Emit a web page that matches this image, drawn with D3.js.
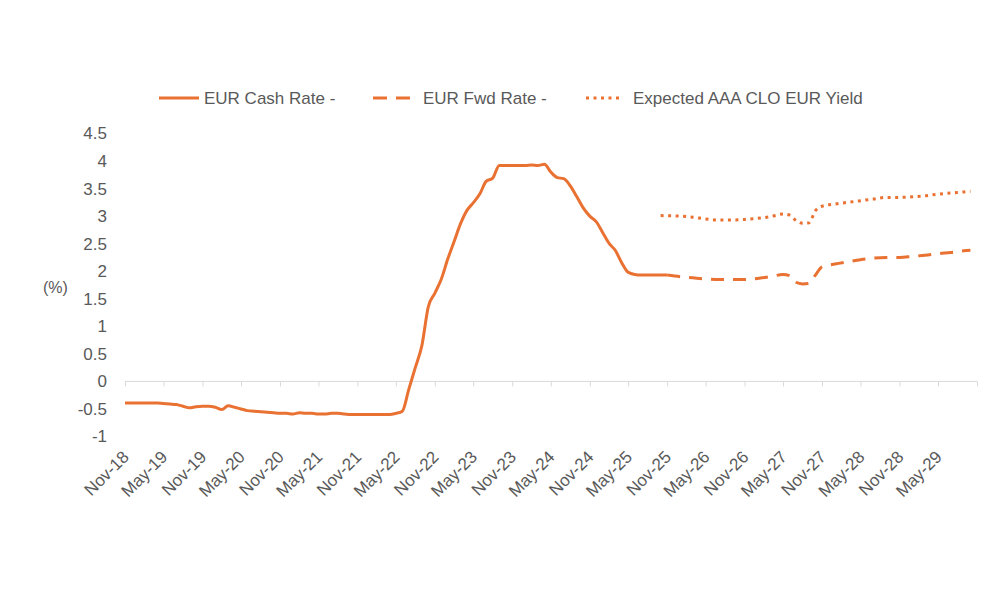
<!DOCTYPE html>
<html><head><meta charset="utf-8">
<script src="https://cdn.jsdelivr.net/npm/d3@7"></script>
<style>body{margin:0;background:#fff}svg{display:block}</style>
</head><body>
<svg id="c" width="1000" height="600"></svg>
<script>
// ---- data ----
const cashStart = "2018-11";
const cashValues = [
 -0.39,-0.39,-0.39,-0.39,-0.39,-0.39,-0.40,-0.41,-0.42,-0.45,-0.48,-0.46,
 -0.45,-0.45,-0.47,-0.51,-0.44,-0.47,-0.50,-0.53,-0.54,-0.55,-0.56,-0.57,
 -0.58,-0.58,-0.59,-0.57,-0.58,-0.58,-0.59,-0.59,-0.58,-0.58,-0.59,-0.60,
 -0.60,-0.60,-0.60,-0.60,-0.60,-0.60,-0.58,-0.54,-0.15,0.25,0.65,1.35,
 1.60,1.85,2.22,2.55,2.85,3.10,3.24,3.40,3.63,3.69,3.92,3.92,
 3.92,3.92,3.92,3.93,3.92,3.94,3.80,3.70,3.68,3.55,3.35,3.15,
 3.00,2.90,2.70,2.50,2.38,2.15,1.98,1.94,1.93,1.93,1.93,1.93,1.93
];
const fwdDates = ["2025-11","2026-01","2026-03","2026-05","2026-07","2026-09","2026-11","2027-01","2027-03","2027-05","2027-06","2027-07","2027-08","2027-09","2027-10","2027-11","2028-01","2028-03","2028-05","2028-07","2028-09","2028-11","2029-01","2029-03","2029-05","2029-07","2029-09","2029-10"];
const fwdValues = [1.93,1.90,1.88,1.86,1.85,1.85,1.85,1.87,1.90,1.94,1.92,1.80,1.77,1.78,1.93,2.08,2.13,2.17,2.21,2.24,2.25,2.25,2.27,2.29,2.32,2.34,2.37,2.38];
const yieldDates = ["2025-10","2026-01","2026-03","2026-05","2026-07","2026-09","2026-11","2027-01","2027-03","2027-05","2027-06","2027-07","2027-08","2027-09","2027-10","2027-11","2028-01","2028-03","2028-05","2028-07","2028-09","2028-11","2029-01","2029-03","2029-05","2029-07","2029-09","2029-10"];
const yieldValues = [3.01,3.00,2.98,2.95,2.93,2.93,2.94,2.96,2.99,3.04,3.02,2.92,2.87,2.88,3.10,3.18,3.22,3.25,3.28,3.31,3.34,3.34,3.35,3.37,3.40,3.42,3.44,3.45];
const yTicks = [-1,-0.5,0,0.5,1,1.5,2,2.5,3,3.5,4,4.5];
const xTickLabels = ["Nov-18","May-19","Nov-19","May-20","Nov-20","May-21","Nov-21","May-22","Nov-22","May-23","Nov-23","May-24","Nov-24","May-25","Nov-25","May-26","Nov-26","May-27","Nov-27","May-28","Nov-28","May-29"];
const legendLabels = ["EUR Cash Rate -","EUR Fwd Rate -","Expected AAA CLO EUR Yield"];

// ---- setup ----
const color = "#E97132", textCol = "#595959", font = "'Liberation Sans', Arial, sans-serif";
const svg = d3.select("#c");
const parse = d3.utcParse("%Y-%m");
const x = d3.scaleUtc().domain([parse("2018-11"), parse("2029-11")]).range([125, 977]);
const y = d3.scaleLinear().domain([-1, 4.5]).range([436.5, 133.5]);

const cash = cashValues.map((v,i)=>({d:d3.utcMonth.offset(parse(cashStart), i), v}));
const fwd = fwdDates.map((d,i)=>({d:parse(d), v:fwdValues[i]}));
const yld = yieldDates.map((d,i)=>({d:parse(d), v:yieldValues[i]}));

// y axis labels
const ya = svg.append("g").attr("transform","translate(107,0)")
  .call(d3.axisLeft(y).tickValues(yTicks).tickSize(0).tickPadding(0).tickFormat(d=>String(d)));
ya.select(".domain").remove();
ya.selectAll("text").attr("font-family",font).attr("font-size",17).attr("fill",textCol);
svg.append("text").attr("x",43).attr("y",287).attr("dy","0.35em").attr("font-family",font)
  .attr("font-size",16).attr("fill",textCol).text("(%)");

// x axis at zero
const xTickDates = d3.utcMonth.range(parse("2018-11"), d3.utcMonth.offset(parse("2029-11"),1), 6);
const xa = svg.append("g").attr("transform",`translate(0,${y(0)})`)
  .call(d3.axisBottom(x).tickValues(xTickDates).tickSize(5).tickFormat(""));
xa.select(".domain").attr("stroke","#d9d9d9").attr("d",`M${x.range()[0]},0H${x.range()[1]}`);
xa.selectAll(".tick line").attr("stroke","#d9d9d9");

// x labels (rotated) at bottom
svg.append("g").selectAll("text").data(xTickLabels).join("text")
  .attr("transform",(d,i)=>`translate(${x(xTickDates[i])+5},${458}) rotate(-45)`)
  .attr("text-anchor","end").attr("font-family",font).attr("font-size",17).attr("fill",textCol)
  .text(d=>d);

// lines
const line = d3.line().x(d=>x(d.d)).y(d=>y(d.v)).curve(d3.curveMonotoneX);
svg.append("path").datum(cash).attr("d",line).attr("fill","none").attr("stroke",color).attr("stroke-width",3).attr("stroke-linejoin","round");
svg.append("path").datum(fwd).attr("d",line).attr("fill","none").attr("stroke",color).attr("stroke-width",3).attr("stroke-dasharray","13,9");
svg.append("path").datum(yld).attr("d",line).attr("fill","none").attr("stroke",color).attr("stroke-width",3).attr("stroke-dasharray","3,4.5");

// legend
const leg = [{x1:159,x2:199,tx:204,dash:null},{x1:373,x2:414,tx:423,dash:"14,9"},{x1:586,x2:623,tx:633,dash:"3,4.5"}];
const lg = svg.append("g");
leg.forEach((l,i)=>{
  lg.append("line").attr("x1",l.x1).attr("x2",l.x2).attr("y1",98).attr("y2",98)
    .attr("stroke",color).attr("stroke-width",3).attr("stroke-dasharray",l.dash);
  lg.append("text").attr("x",l.tx).attr("y",98).attr("dy","0.35em").attr("font-family",font)
    .attr("font-size",17).attr("fill",textCol).text(legendLabels[i]);
});
</script>
</body></html>
